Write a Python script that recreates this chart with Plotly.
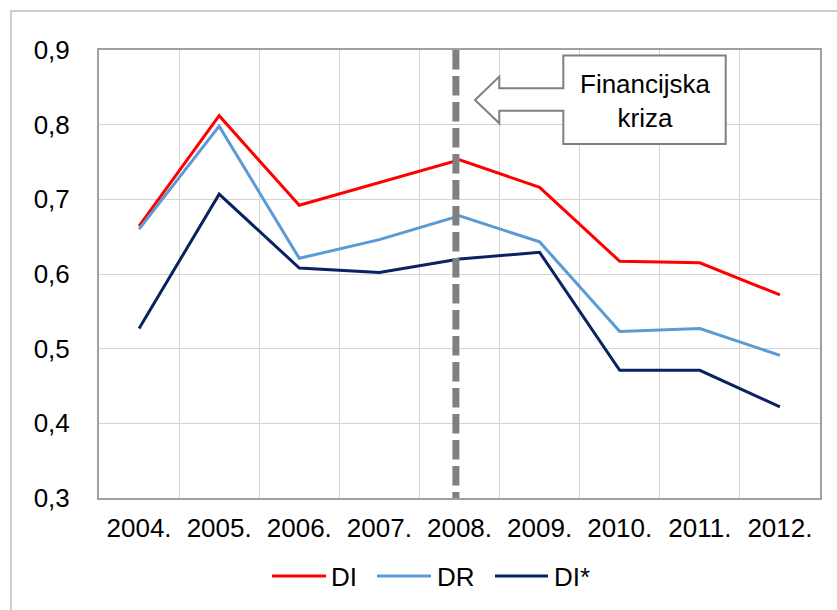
import plotly.graph_objects as go

years = ["2004.", "2005.", "2006.", "2007.", "2008.", "2009.", "2010.", "2011.", "2012."]
di = [0.664, 0.812, 0.692, 0.722, 0.753, 0.716, 0.617, 0.615, 0.572]
dr = [0.660, 0.798, 0.621, 0.646, 0.678, 0.643, 0.523, 0.527, 0.491]
di_star = [0.527, 0.707, 0.608, 0.602, 0.620, 0.629, 0.471, 0.471, 0.422]

series_names = ["DI", "DR", "DI*"]
series_colors = ["#FF0000", "#5B9BD5", "#0A2261"]
crisis_label = "Financijska<br>kriza"
crisis_pos = 3.955  # category index position of the dashed marker (just before 2008 centre)

W, H = 837, 610
L, R, T, B = 99, 17, 50, 112
pw, ph = W - L - R, H - T - B


def px_x(px):
    return (px - L) / pw


def px_y(py):
    return (H - B - py) / ph


FONT = "Liberation Sans, Arial, sans-serif"
FS = 26

fig = go.Figure()
for name, vals, col in zip(series_names, [di, dr, di_star], series_colors):
    fig.add_trace(go.Scatter(x=years, y=vals, name=name, mode="lines",
                             line=dict(color=col, width=3), showlegend=False))

shapes = []
# outer chart frame (runs off right and bottom edges)
shapes.append(dict(type="rect", xref="paper", yref="paper",
                   x0=px_x(11), x1=px_x(W + 10), y0=px_y(H + 10), y1=px_y(11),
                   line=dict(color="#BDBDBD", width=1.5), fillcolor="rgba(0,0,0,0)",
                   layer="below"))
# dashed crisis marker
shapes.append(dict(type="line", xref="x", yref="y",
                   x0=crisis_pos, x1=crisis_pos, y0=0.9, y1=0.3,
                   line=dict(color="#808080", width=7, dash="19.5px,6.5px"),
                   layer="above"))
# left-arrow callout box
pts = [(563.3, 55.5), (725.7, 55.5), (725.7, 144), (563.3, 144), (563.3, 110.7),
       (499.3, 110.7), (499.3, 123.3), (475, 100), (499.3, 76.5), (499.3, 88.3),
       (563.3, 88.3)]
path = "M " + " L ".join(f"{px_x(a):.5f},{px_y(b):.5f}" for a, b in pts) + " Z"
shapes.append(dict(type="path", xref="paper", yref="paper", path=path,
                   fillcolor="white", line=dict(color="#808080", width=2),
                   layer="above"))

annotations = [dict(xref="paper", yref="paper", x=px_x(645.5), y=px_y(100.5),
                    text=crisis_label, showarrow=False, align="center",
                    xanchor="center", yanchor="middle",
                    font=dict(family=FONT, size=FS, color="#000000"))]

# legend (Excel-style long keys)
legend_keys = [(272, 326, 330), (377, 431, 436), (495, 548, 553)]
leg_y = 576
for (x0, x1, tx), name, col in zip(legend_keys, series_names, series_colors):
    shapes.append(dict(type="line", xref="paper", yref="paper",
                       x0=px_x(x0), x1=px_x(x1), y0=px_y(leg_y), y1=px_y(leg_y),
                       line=dict(color=col, width=3)))
    annotations.append(dict(xref="paper", yref="paper", x=px_x(tx - 1), y=px_y(leg_y + 1),
                            text=name, showarrow=False, xanchor="left", yanchor="middle",
                            font=dict(family=FONT, size=FS, color="#000000")))

fig.update_layout(
    width=W, height=H,
    margin=dict(l=L, r=R, t=T, b=B, pad=0),
    paper_bgcolor="white", plot_bgcolor="white",
    separators=", ",
    font=dict(family=FONT, size=FS, color="#000000"),
    shapes=shapes,
    annotations=annotations,
    showlegend=False,
    xaxis=dict(type="category", tickson="boundaries", showgrid=True,
               gridcolor="#D4D4D4", gridwidth=1, ticks="", showline=True,
               linecolor="#A0A0A0", linewidth=2, mirror=True, automargin=False,
               range=[-0.5, 8.5], ticklabelstandoff=6,
               tickfont=dict(family=FONT, size=FS)),
    yaxis=dict(range=[0.3, 0.9], dtick=0.1, tick0=0.3, tickformat=".1f",
               showgrid=True, gridcolor="#D4D4D4", gridwidth=1, zeroline=False,
               ticks="", showline=True, linecolor="#A0A0A0", linewidth=2, mirror=True,
               automargin=False, ticklabelstandoff=22, tickfont=dict(family=FONT, size=FS)),
)

fig.write_html("out.html", config={"displayModeBar": False},
               post_script="document.body.style.margin='0';document.body.style.overflow='hidden';")
